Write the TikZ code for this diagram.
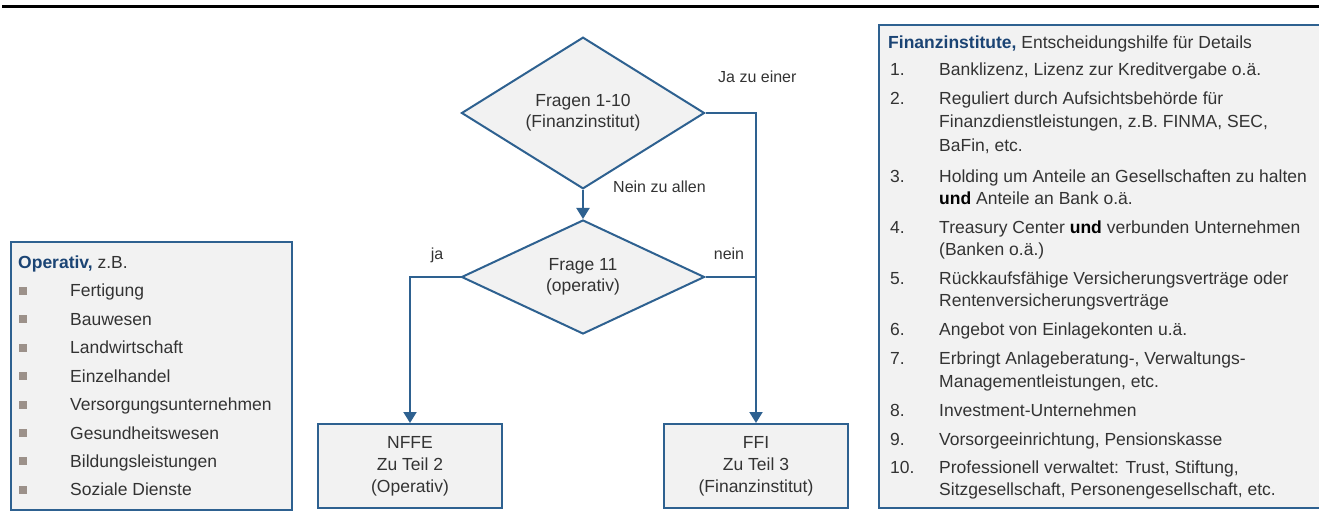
\documentclass[tikz,border=0pt]{standalone}
\usepackage{fontspec}
\setmainfont{Liberation Sans}
\usetikzlibrary{shapes.geometric,arrows.meta}
\definecolor{lineblue}{HTML}{2E6190}
\definecolor{titleblue}{HTML}{1B4474}
\definecolor{boxfill}{HTML}{F2F2F2}
\definecolor{txt}{HTML}{333333}
\definecolor{bulletgray}{HTML}{9C918A}
\tikzset{
  conn/.style={draw=lineblue, line width=2pt},
  arr/.style={conn, -{Triangle[width=13pt,length=11pt]}},
  decision/.style={diamond, draw=lineblue, line width=2pt, fill=boxfill, inner sep=0pt,
    minimum width=243pt, minimum height=114pt, align=center, text=txt,
    font=\fontsize{17.5}{21}\selectfont},
  result/.style={rectangle, draw=lineblue, line width=2pt, fill=boxfill,
    minimum width=184pt, minimum height=84pt, align=center, text=txt,
    font=\fontsize{17.5}{22}\selectfont},
  panel/.style={draw=lineblue, line width=2pt, fill=boxfill},
  ptext/.style={anchor=base west, inner sep=0pt, text=txt, font=\fontsize{17.5}{21}\selectfont},
  lbl/.style={inner sep=0pt, text=txt, font=\fontsize{16}{19}\selectfont},
  bul/.style={rectangle, fill=bulletgray, minimum size=8pt, inner sep=0pt}
}
\begin{document}
\begin{tikzpicture}[x=1pt,y=-1pt]
\useasboundingbox (0,0) rectangle (1319,526);
% top rule
\draw[line width=3pt, black] (2,7) -- (1319,7);

% flow chart
\node[decision] (d1) at (583,113) {Fragen 1-10\\(Finanzinstitut)};
\node[decision] (d2) at (583,277) {Frage 11\\(operativ)};
\node[result] (nffe) at (410,466) {NFFE\\Zu Teil 2\\(Operativ)};
\node[result] (ffi) at (756,466) {FFI\\Zu Teil 3\\(Finanzinstitut)};

\draw[arr] (d1.south) -- (d2.north);
\draw[arr] (d1.east) -| (ffi.north);
\draw[conn] (d2.east) -- (d2.east -| ffi.north);
\draw[arr] (d2.west) -| (nffe.north);

\node[lbl, anchor=west] (l1) at (718,77) {Ja zu einer};
\node[lbl, anchor=west] (l2) at (613,187) {Nein zu allen};
\node[lbl] (l3) at (437,255) {ja};
\node[lbl] (l4) at (729,254) {nein};

% left panel
\path[panel] (11,242) rectangle (292,510);
\node[ptext] (ot) at (18,269) {\textcolor{titleblue}{\textbf{Operativ,}} z.B.};
\foreach \t [count=\i] in {Fertigung,Bauwesen,Landwirtschaft,Einzelhandel,Versorgungsunternehmen,Gesundheitswesen,Bildungsleistungen,Soziale Dienste}{
  \pgfmathsetmacro{\yy}{291+(\i-1)*28.4}
  \node[bul] (b\i) at (22.5,\yy) {};
  \node[ptext] (o\i) at (70,\yy+6) {\t};
}

% right panel
\path[panel] (879,25) rectangle (1325,508);
\node[ptext] (ft) at (888,49) {\textcolor{titleblue}{\textbf{Finanzinstitute,}} Entscheidungshilfe für Details};
\node[ptext] (n1) at (890,76) {1.};
\node[ptext] (t1) at (939,76) {Banklizenz, Lizenz zur Kreditvergabe o.ä.};
\node[ptext] (n2) at (890,105) {2.};
\node[ptext] (t2) at (939,105) {Reguliert durch Aufsichtsbehörde für};
\node[ptext] (t2b) at (939,128) {Finanzdienstleistungen, z.B. FINMA, SEC,};
\node[ptext] (t2c) at (939,152) {BaFin, etc.};
\node[ptext] (n3) at (890,183) {3.};
\node[ptext] (t3) at (939,183) {Holding um Anteile an Gesellschaften zu halten};
\node[ptext] (t3b) at (939,205) {\textcolor{black}{\textbf{und}} Anteile an Bank o.ä.};
\node[ptext] (n4) at (890,234) {4.};
\node[ptext] (t4) at (939,234) {Treasury Center \textcolor{black}{\textbf{und}} verbunden Unternehmen};
\node[ptext] (t4b) at (939,256) {(Banken o.ä.)};
\node[ptext] (n5) at (890,285) {5.};
\node[ptext] (t5) at (939,285) {Rückkaufsfähige Versicherungsverträge oder};
\node[ptext] (t5b) at (939,307) {Rentenversicherungsverträge};
\node[ptext] (n6) at (890,336) {6.};
\node[ptext] (t6) at (939,336) {Angebot von Einlagekonten u.ä.};
\node[ptext] (n7) at (890,364) {7.};
\node[ptext] (t7) at (939,364) {Erbringt Anlageberatung-, Verwaltungs-};
\node[ptext] (t7b) at (939,387) {Managementleistungen, etc.};
\node[ptext] (n8) at (890,416) {8.};
\node[ptext] (t8) at (939,416) {Investment-Unternehmen};
\node[ptext] (n9) at (890,445) {9.};
\node[ptext] (t9) at (939,445) {Vorsorgeeinrichtung, Pensionskasse};
\node[ptext] (n10) at (890,473) {10.};
\node[ptext] (t10) at (939,473) {Professionell verwaltet: Trust, Stiftung,};
\node[ptext] (t10b) at (939,495) {Sitzgesellschaft, Personengesellschaft, etc.};
\end{tikzpicture}
\end{document}
